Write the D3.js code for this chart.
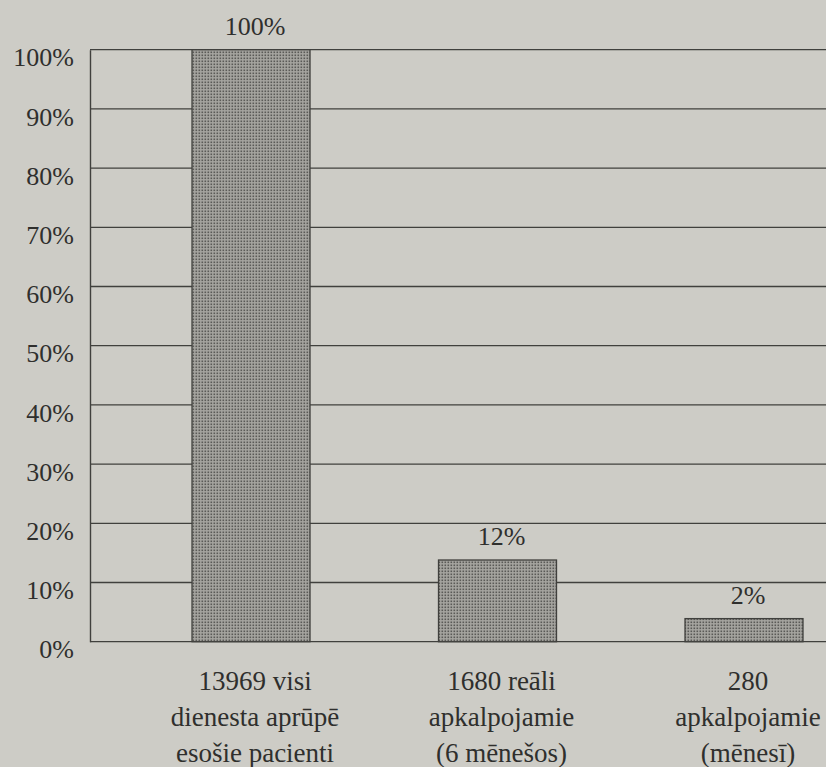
<!DOCTYPE html>
<html lang="lv">
<head>
  <meta charset="utf-8">
  <title>pacienti</title>
  <script type="text/javascript" src="https://cdn.jsdelivr.net/npm/d3@7"></script>
  <style>
    body {
      margin: 0px;
      background: #cdccc6;
    }
    svg {
      display: block;
    }
    text {
      font-family: "Liberation Serif", "DejaVu Serif", serif;
      fill: #2f2f2d;
    }
  </style>
</head>
<body>
  <script type="text/javascript">
    // Data
    var categories = ["visi", "reali", "menesi"];
    var categoryLines = [
      ["13969 visi", "dienesta aprūpē", "esošie pacienti"],
      ["1680 reāli", "apkalpojamie", "(6 mēnešos)"],
      ["280", "apkalpojamie", "(mēnesī)"]
    ];
    // bar heights as drawn in the picture (percent)
    var barValues = [100, 13.8, 3.9];
    var valueLabels = ["100%", "12%", "2%"];
    var yTicks = [0, 10, 20, 30, 40, 50, 60, 70, 80, 90, 100];

    var width = 826;
    var height = 767;
    var plotLeft = 90, plotRight = 826, plotTop = 49.7, plotBottom = 641.7;
    var ink = "#40403d";

    var svg = d3.select("body").append("svg")
      .attr("width", width)
      .attr("height", height);

    // stipple fill for the bars
    var defs = svg.append("defs");
    var pat = defs.append("pattern")
      .attr("id", "dots")
      .attr("patternUnits", "userSpaceOnUse")
      .attr("width", 3)
      .attr("height", 3);
    pat.append("rect")
      .attr("width", 3).attr("height", 3)
      .attr("fill", "#a6a5a0");
    pat.append("rect")
      .attr("x", 0.5).attr("y", 0.5)
      .attr("width", 1.6).attr("height", 1.6)
      .attr("fill", "#5a5a57");

    var x = d3.scaleBand()
      .domain(categories)
      .range([plotLeft, plotRight])
      .paddingInner(0.5213)
      .paddingOuter(0.2536)
      .align(0.816);

    var y = d3.scaleLinear()
      .domain([0, 100])
      .range([plotBottom, plotTop]);

    // gridlines
    svg.append("g").selectAll("line")
      .data(yTicks)
      .enter().append("line")
      .attr("x1", plotLeft)
      .attr("x2", plotRight)
      .attr("y1", function(d) { return y(d); })
      .attr("y2", function(d) { return y(d); })
      .attr("stroke", ink)
      .attr("stroke-width", 1.3);

    // left axis
    var yAxis = d3.axisLeft(y)
      .tickValues(yTicks)
      .tickSize(0)
      .tickPadding(16)
      .tickFormat(function(d) { return d + "%"; });
    var gy = svg.append("g")
      .attr("transform", "translate(" + plotLeft + ",0)")
      .call(yAxis);
    gy.select(".domain")
      .attr("stroke", ink)
      .attr("stroke-width", 1.4);
    gy.selectAll(".tick text")
      .attr("dy", "0.62em")
      .style("font-size", "26px")
      .style("font-family", "'Liberation Serif', serif")
      .attr("fill", "#2f2f2d");

    // bars
    svg.append("g").selectAll("rect")
      .data(barValues)
      .enter().append("rect")
      .attr("x", function(d, i) { return x(categories[i]); })
      .attr("y", function(d) { return y(d); })
      .attr("width", x.bandwidth())
      .attr("height", function(d) { return y(0) - y(d); })
      .attr("fill", "url(#dots)")
      .attr("stroke", ink)
      .attr("stroke-width", 1.3);

    // value labels
    svg.append("g").selectAll("text")
      .data(barValues)
      .enter().append("text")
      .attr("x", function(d, i) { return x(categories[i]) + x.bandwidth() / 2 + 4; })
      .attr("y", function(d) { return y(d) - 15; })
      .attr("text-anchor", "middle")
      .style("font-size", "26px")
      .text(function(d, i) { return valueLabels[i]; });

    // category labels
    var cat = svg.append("g").selectAll("text")
      .data(categoryLines)
      .enter().append("text")
      .attr("text-anchor", "middle")
      .style("font-size", "27px")
      .attr("transform", function(d, i) {
        return "translate(" + (x(categories[i]) + x.bandwidth() / 2 + 4) + "," + (y(0) + 48) + ")";
      });
    cat.selectAll("tspan")
      .data(function(d) { return d; })
      .enter().append("tspan")
      .attr("x", 0)
      .attr("y", function(d, j) { return j * 36; })
      .text(function(d) { return d; });
  </script>
</body>
</html>
